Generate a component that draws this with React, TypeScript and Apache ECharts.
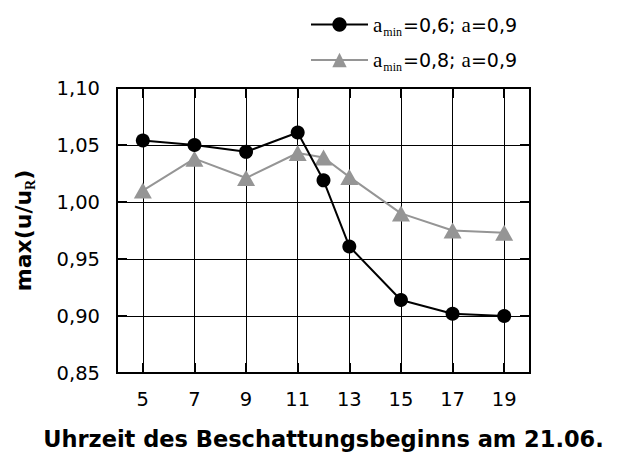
import React, { useEffect, useRef } from "react";
import * as echarts from "echarts";

const xTicks = [5, 7, 9, 11, 13, 15, 17, 19];
const hoursA = [5, 7, 9, 11, 12, 13, 15, 17, 19];
const valuesA = [1.054, 1.05, 1.044, 1.061, 1.019, 0.961, 0.914, 0.902, 0.9];
const hoursB = [5, 7, 9, 11, 12, 13, 15, 17, 19];
const valuesB = [1.01, 1.038, 1.021, 1.043, 1.039, 1.022, 0.99, 0.975, 0.973];
const seriesNames = ["a_min=0,6; a=0,9", "a_min=0,8; a=0,9"];

const SANS = "'DejaVu Sans', 'Liberation Sans', Arial, sans-serif";
const SERIF = "'Liberation Serif', 'Times New Roman', serif";

export default function App() {
  const ref = useRef<HTMLDivElement>(null);
  useEffect(() => {
    if (!ref.current) return;
    const chart = echarts.init(ref.current, null, { renderer: "svg" });
    const fmtY = (v: number) => v.toFixed(2).replace(".", ",");
    const legendFmt = (name: string) => {
      const m = name.match(/a_min=([0-9,]+); a=([0-9,]+)/);
      if (!m) return name;
      return `{s|a}{sub|min}{t|=${m[1]}; }{s|a}{t|=${m[2]}}`;
    };
    const commonX = {
      type: "value",
      min: 4,
      max: 20,
      axisLine: { show: false },
      axisTick: { show: true, inside: true, length: 10, customValues: xTicks, lineStyle: { color: "#000", width: 2 } },
      splitLine: { show: false },
    };
    const commonY = {
      type: "value",
      min: 0.85,
      max: 1.1,
      interval: 0.05,
      axisLine: { show: false },
      axisTick: { show: true, inside: true, length: 10, lineStyle: { color: "#000", width: 2 } },
      splitLine: { show: false },
    };
    chart.setOption({
      animation: false,
      backgroundColor: "#fff",
      grid: {
        left: 117,
        right: 102,
        top: 88,
        bottom: 81,
        show: true,
        borderColor: "#000",
        borderWidth: 2,
        containLabel: false,
      },
      legend: {
        orient: "vertical",
        left: 305,
        top: 9,
        itemWidth: 57,
        itemHeight: 18,
        itemGap: 12,
        data: seriesNames,
        formatter: legendFmt,
        textStyle: {
          color: "#000",
          rich: {
            s: { fontFamily: SERIF, fontSize: 21, color: "#000" },
            sub: { fontFamily: SERIF, fontSize: 12, color: "#000", padding: [14, 1, 0, 1] },
            t: { fontFamily: SANS, fontSize: 19, color: "#000" },
          },
        },
      },
      xAxis: [
        {
          ...commonX,
          position: "bottom",
          axisLabel: {
            show: true,
            customValues: xTicks,
            margin: 16,
            fontFamily: SANS,
            fontSize: 19.5,
            color: "#000",
          },
          name: "Uhrzeit des Beschattungsbeginns am 21.06.",
          nameLocation: "middle",
          nameGap: 54,
          nameTextStyle: { fontFamily: SANS, fontSize: 22.5, fontWeight: "bold", color: "#000" },
        },
        { ...commonX, position: "top", axisLabel: { show: false } },
        {
          type: "value",
          min: 4,
          max: 20,
          show: true,
          position: "bottom",
          axisLine: { show: false },
          axisLabel: { show: false },
          axisTick: { show: false, customValues: xTicks },
          splitLine: { show: true, lineStyle: { color: "#000", width: 1 } },
        },
      ],
      yAxis: [
        {
          ...commonY,
          position: "left",
          axisLabel: {
            show: true,
            margin: 17,
            fontFamily: SANS,
            fontSize: 19.5,
            color: "#000",
            formatter: fmtY,
          },
          name: "{b|max(u/u}{r|R}{b|)}",
          nameLocation: "middle",
          nameGap: 80,
          nameRotate: 90,
          nameTextStyle: {
            rich: {
              b: { fontFamily: SANS, fontSize: 22, fontWeight: "bold", color: "#000" },
              r: { fontFamily: SERIF, fontSize: 14, fontWeight: "bold", color: "#000", padding: [13, 0, 0, 0] },
            },
          },
        },
        { ...commonY, position: "right", axisLabel: { show: false } },
        {
          type: "value",
          min: 0.85,
          max: 1.1,
          interval: 0.05,
          position: "left",
          axisLine: { show: false },
          axisLabel: { show: false },
          axisTick: { show: false },
          splitLine: { show: true, lineStyle: { color: "#000", width: 1 } },
        },
      ],
      series: [
        {
          name: seriesNames[0],
          type: "line",
          data: hoursA.map((h, i) => [h, valuesA[i]]),
          symbol: "circle",
          symbolSize: 14,
          lineStyle: { color: "#000", width: 2 },
          itemStyle: { color: "#000" },
          z: 4,
        },
        {
          name: seriesNames[1],
          type: "line",
          data: hoursB.map((h, i) => [h, valuesB[i]]),
          symbol: "triangle",
          symbolSize: [18, 16],
          lineStyle: { color: "#959595", width: 2 },
          itemStyle: { color: "#959595" },
          z: 3,
        },
      ],
    });
    return () => chart.dispose();
  }, []);
  return <div ref={ref} style={{ width: 632, height: 455, position: "absolute", left: 0, top: 0 }} />;
}
